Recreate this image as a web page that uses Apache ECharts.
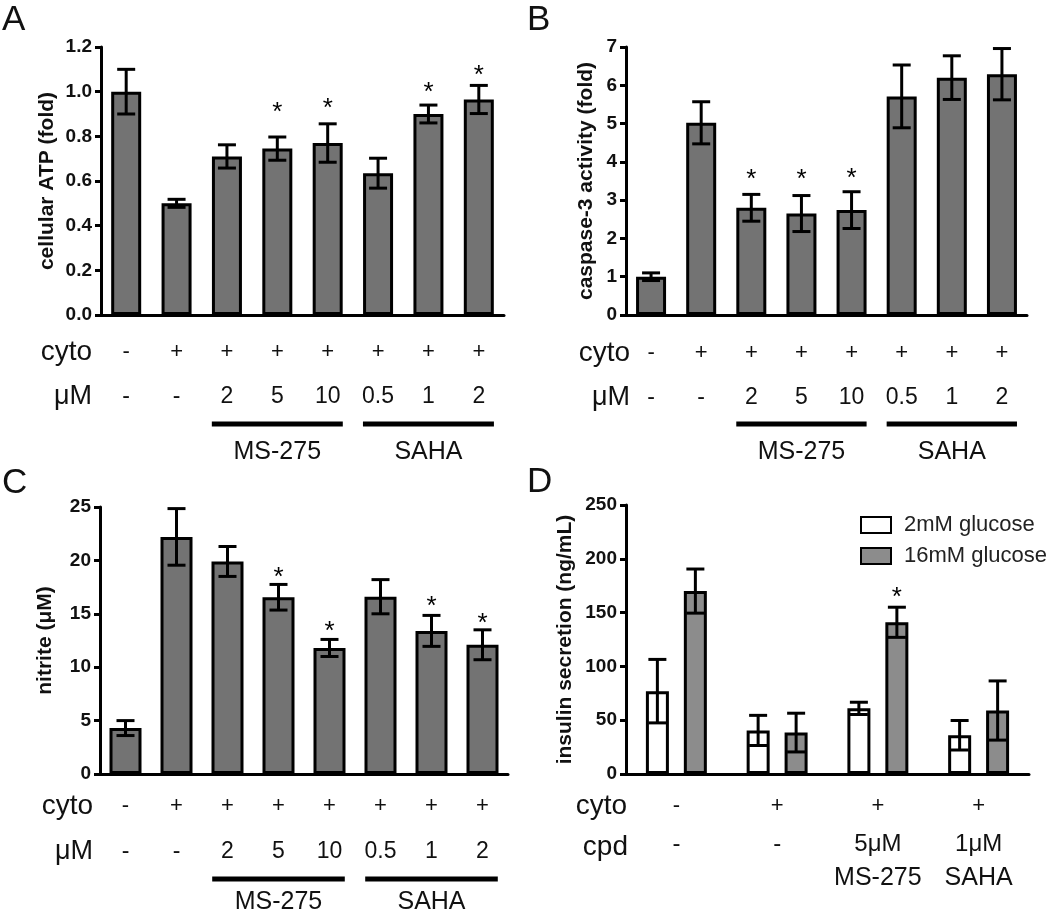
<!DOCTYPE html>
<html lang="en">
<head>
<meta charset="UTF-8">
<title>HDAC inhibitor panels</title>
<script src="https://cdn.jsdelivr.net/npm/echarts@6/dist/echarts.min.js"></script>
<style>
  html, body { margin: 0; padding: 0; background: #fff; }
  #main { width: 1050px; height: 914px; }
</style>
</head>
<body>
<div id="main"></div>
<script>
// rows under panels A-C
var cytoRow = ['-', '+', '+', '+', '+', '+', '+', '+'];
var doseRow = ['-', '-', '2', '5', '10', '0.5', '1', '2'];
var groups = [{name: 'MS-275', from: 2, to: 4}, {name: 'SAHA', from: 5, to: 7}];

// A: cellular ATP (fold)
var atpMean = [1.00, 0.50, 0.71, 0.745, 0.77, 0.635, 0.90, 0.965];
var atpErr  = [0.10, 0.018, 0.052, 0.052, 0.086, 0.067, 0.04, 0.063];
var atpStar = [null, null, null, 0.93, 0.95, null, 1.02, 1.10];

// B: caspase-3 activity (fold)
var casMean = [1.0, 5.02, 2.8, 2.65, 2.74, 5.71, 6.2, 6.29];
var casErr  = [0.1, 0.55, 0.35, 0.47, 0.48, 0.82, 0.57, 0.67];
var casStar = [null, null, 3.7, 3.7, 3.72, null, null, null];

// C: nitrite (uM)
var nitMean = [4.3, 22.2, 19.9, 16.55, 11.8, 16.6, 13.4, 12.1];
var nitErr  = [0.7, 2.65, 1.4, 1.2, 0.8, 1.6, 1.45, 1.4];
var nitStar = [null, null, null, 18.9, 13.9, null, 16.2, 14.6];

// D: insulin secretion (ng/mL)
var insCyto = ['-', '+', '+', '+'];
var insCpd1 = ['-', '-', '5μM', '1μM'];
var insCpd2 = ['', '', 'MS-275', 'SAHA'];
var ins2Mean  = [77, 40.5, 61, 36];
var ins2Err   = [29.5, 14, 5.7, 13.7];
var ins16Mean = [170, 38.5, 141, 59];
var ins16Err  = [20.5, 18, 14, 27.5];
var noStar = [null, null, null, null];
var ins16Star = [null, null, 169, null];

var FONT = '"Liberation Sans", Arial, sans-serif';
var chart = echarts.init(document.getElementById('main'));

function errorBars(means, errs, stars, dx) {
    return function (params, api) {
        var i = params.dataIndex;
        var top = api.coord([i, means[i] + errs[i]]);
        var bot = api.coord([i, means[i] - errs[i]]);
        var x = top[0] + dx;
        var st = {stroke: '#000', lineWidth: 3};
        var kids = [
            {type: 'line', shape: {x1: x, y1: top[1], x2: x, y2: bot[1]}, style: st},
            {type: 'line', shape: {x1: x - 9, y1: top[1], x2: x + 9, y2: top[1]}, style: st},
            {type: 'line', shape: {x1: x - 9, y1: bot[1], x2: x + 9, y2: bot[1]}, style: st}
        ];
        if (stars[i] != null) {
            var s = api.coord([i, stars[i]]);
            kids.push({type: 'text', x: x, y: s[1] + 6,
                style: {text: '*', fill: '#000', font: '26px ' + FONT, align: 'center', verticalAlign: 'middle'}});
        }
        return {type: 'group', children: kids};
    };
}

function groupBars(lineOff, labelOff) {
    return function (params, api) {
        var g = groups[params.dataIndex];
        var a = api.coord([g.from, 0]), b = api.coord([g.to, 0]);
        var band = api.size([1, 0])[0];
        var x1 = a[0] - band * 0.3, x2 = b[0] + band * 0.3;
        return {type: 'group', children: [
            {type: 'rect', shape: {x: x1, y: a[1] + lineOff - 2.5, width: x2 - x1, height: 5}, style: {fill: '#000'}},
            {type: 'text', x: (x1 + x2) / 2, y: a[1] + labelOff,
                style: {text: g.name, font: '25px ' + FONT, fill: '#111', align: 'center', verticalAlign: 'middle'}}
        ]};
    };
}

function yAxisOf(idx, name, max, interval, gap, digits) {
    return {
        gridIndex: idx, type: 'value', min: 0, max: max, interval: interval,
        name: name, nameLocation: 'middle', nameGap: gap, nameRotate: 90,
        nameTextStyle: {fontFamily: FONT, fontWeight: 'bold', fontSize: 21, color: '#111'},
        axisLine: {show: true, lineStyle: {color: '#000', width: 3}},
        axisTick: {show: true, length: 6, lineStyle: {color: '#000', width: 3}},
        axisLabel: {fontFamily: FONT, fontWeight: 'bold', fontSize: 19, color: '#111', margin: 9,
            formatter: function (v) { return v.toFixed(digits); }},
        splitLine: {show: false}
    };
}

function xAxisOf(idx, n, formatter, margin, rich) {
    var cats = [];
    for (var i = 0; i < n; i++) cats.push(String(i));
    return {
        gridIndex: idx, type: 'category', data: cats,
        axisLine: {lineStyle: {color: '#000', width: 3}},
        axisTick: {alignWithLabel: true, length: 7, lineStyle: {color: '#000', width: 3}},
        axisLabel: {interval: 0, margin: margin, color: '#111', fontFamily: FONT,
            formatter: formatter, rich: rich}
    };
}

function rowLabel(v, i) {
    return '{c|' + cytoRow[i] + '}\n{m|' + doseRow[i] + '}';
}
function insLabel(v, i) {
    return '{c|' + insCyto[i] + '}\n{m|' + insCpd1[i] + '}\n{n|' + insCpd2[i] + '}';
}
var richAB = {c: {fontSize: 22, lineHeight: 45, fontFamily: FONT}, m: {fontSize: 23, lineHeight: 45, fontFamily: FONT}};
var richC = {c: {fontSize: 22, lineHeight: 46, fontFamily: FONT}, m: {fontSize: 23, lineHeight: 46, fontFamily: FONT}};
var richD = {c: {fontSize: 22, lineHeight: 41, fontFamily: FONT}, m: {fontSize: 24, lineHeight: 36, fontFamily: FONT},
    n: {fontSize: 25, lineHeight: 31, fontFamily: FONT}};

function txt(s, x, y, size, align) {
    return {type: 'text', x: x, y: y, style: {text: s, font: size + 'px ' + FONT, fill: '#111',
        align: align || 'right', verticalAlign: 'middle'}};
}

var barStyle = {color: '#737373', borderColor: '#000', borderWidth: 3};
function pts(arr) { return arr.map(function (m, i) { return [i, m]; }); }

var option = {
    backgroundColor: '#fff',
    animation: false,
    grid: [
        {left: 101, top: 47, width: 403, height: 268},
        {left: 626, top: 47, width: 401, height: 268},
        {left: 100, top: 507, width: 408, height: 267},
        {left: 626, top: 505, width: 403, height: 269}
    ],
    xAxis: [
        xAxisOf(0, 8, rowLabel, 14.5, richAB),
        xAxisOf(1, 8, rowLabel, 15.5, richAB),
        xAxisOf(2, 8, rowLabel, 9, richC),
        xAxisOf(3, 4, insLabel, 11.5, richD)
    ],
    yAxis: [
        yAxisOf(0, 'cellular ATP (fold)', 1.2, 0.2, 43, 1),
        yAxisOf(1, 'caspase-3 activity (fold)', 7, 1, 29, 0),
        yAxisOf(2, 'nitrite (μM)', 25, 5, 44, 0),
        yAxisOf(3, 'insulin secretion (ng/mL)', 250, 50, 50, 0)
    ],
    legend: {
        data: ['2mM glucose', '16mM glucose'], orient: 'vertical', left: 855, top: 509,
        itemWidth: 30, itemHeight: 16, itemGap: 9, selectedMode: false, icon: 'rect',
        textStyle: {fontFamily: FONT, fontSize: 22, color: '#222', padding: [0, 0, 0, 8]}
    },
    graphic: [
        txt('A', 2, 20, 35, 'left'), txt('B', 527, 20, 35, 'left'),
        txt('C', 2, 483, 35, 'left'), txt('D', 527, 482, 35, 'left'),
        txt('cyto', 92, 352, 28), txt('μM', 92, 397, 27),
        txt('cyto', 630, 353, 28), txt('μM', 630, 398, 27),
        txt('cyto', 93, 806, 28), txt('μM', 93, 852, 27),
        txt('cyto', 627, 806, 28), txt('cpd', 628, 847, 28)
    ],
    series: [
        {type: 'bar', xAxisIndex: 0, yAxisIndex: 0, data: atpMean, barWidth: 30, itemStyle: barStyle},
        {type: 'custom', xAxisIndex: 0, yAxisIndex: 0, data: pts(atpMean), clip: false, z: 5,
            renderItem: errorBars(atpMean, atpErr, atpStar, 0)},
        {type: 'custom', xAxisIndex: 0, yAxisIndex: 0, data: groups.map(function (g) { return [g.from, 0]; }),
            clip: false, renderItem: groupBars(109, 137)},

        {type: 'bar', xAxisIndex: 1, yAxisIndex: 1, data: casMean, barWidth: 30, itemStyle: barStyle},
        {type: 'custom', xAxisIndex: 1, yAxisIndex: 1, data: pts(casMean), clip: false, z: 5,
            renderItem: errorBars(casMean, casErr, casStar, 0)},
        {type: 'custom', xAxisIndex: 1, yAxisIndex: 1, data: groups.map(function (g) { return [g.from, 0]; }),
            clip: false, renderItem: groupBars(109, 137)},

        {type: 'bar', xAxisIndex: 2, yAxisIndex: 2, data: nitMean, barWidth: 32, itemStyle: barStyle},
        {type: 'custom', xAxisIndex: 2, yAxisIndex: 2, data: pts(nitMean), clip: false, z: 5,
            renderItem: errorBars(nitMean, nitErr, nitStar, 0)},
        {type: 'custom', xAxisIndex: 2, yAxisIndex: 2, data: groups.map(function (g) { return [g.from, 0]; }),
            clip: false, renderItem: groupBars(105, 128)},

        {type: 'bar', name: '2mM glucose', xAxisIndex: 3, yAxisIndex: 3, data: ins2Mean, barWidth: 23, barGap: '65%',
            itemStyle: {color: '#fff', borderColor: '#000', borderWidth: 3}},
        {type: 'bar', name: '16mM glucose', xAxisIndex: 3, yAxisIndex: 3, data: ins16Mean, barWidth: 23, barGap: '65%',
            itemStyle: {color: '#8c8c8c', borderColor: '#000', borderWidth: 3}},
        {type: 'custom', xAxisIndex: 3, yAxisIndex: 3, data: pts(ins2Mean), clip: false, z: 5,
            renderItem: errorBars(ins2Mean, ins2Err, noStar, -19)},
        {type: 'custom', xAxisIndex: 3, yAxisIndex: 3, data: pts(ins16Mean), clip: false, z: 5,
            renderItem: errorBars(ins16Mean, ins16Err, ins16Star, 19)}
    ]
};
chart.setOption(option);
</script>
</body>
</html>
